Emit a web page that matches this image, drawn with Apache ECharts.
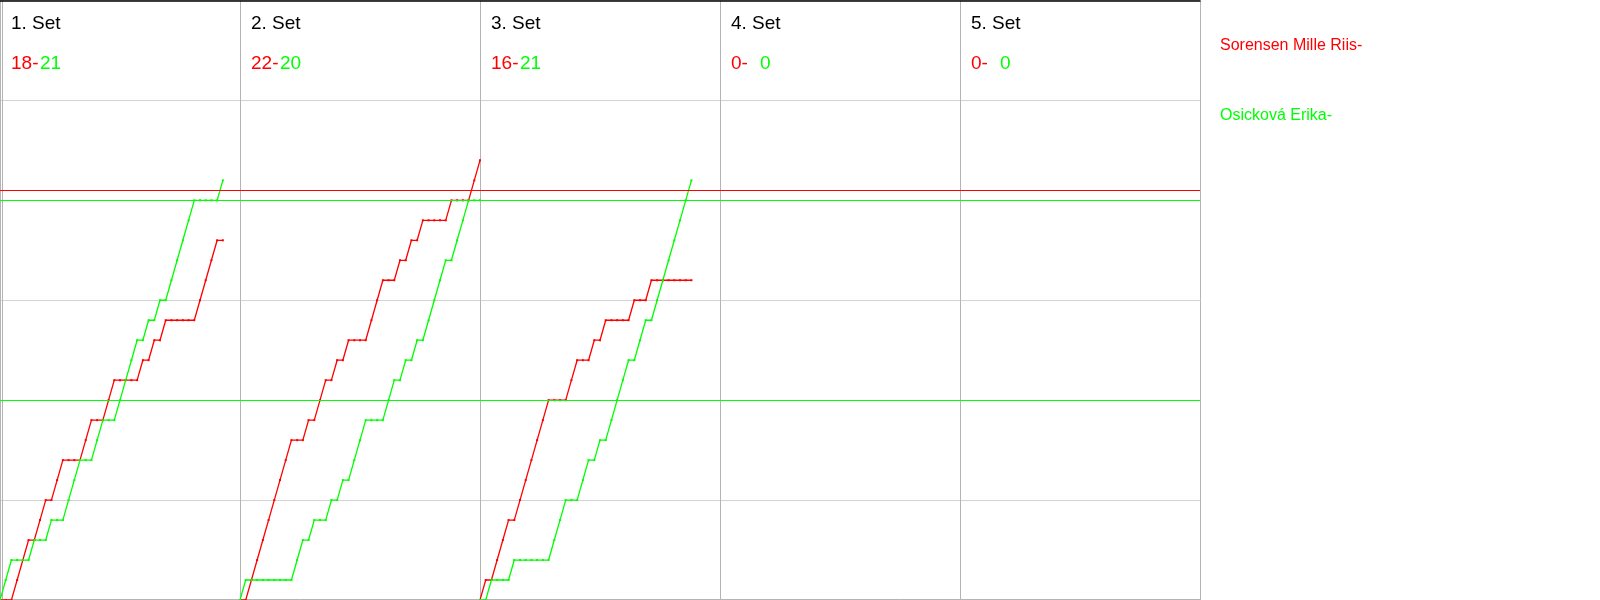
<!DOCTYPE html>
<html><head><meta charset="utf-8">
<script src="https://cdn.jsdelivr.net/npm/echarts@6/dist/echarts.min.js"></script>
<style>html,body{margin:0;padding:0;background:#fff}#chart{width:1600px;height:600px}</style>
</head><body><div id="chart"></div>
<script>
// ---- data ----
const playerRed = 'Sorensen Mille Riis';
const playerGreen = 'Osicková Erika';
const setNames = ['1. Set', '2. Set', '3. Set', '4. Set', '5. Set'];
const rallySlotsPerSet = 42;
// cumulative score after each rally (index = rally number, starting at 0)
const set1Red   = [0,0,0,1,2,3,3,4,5,5,6,7,7,7,7,8,9,9,9,10,11,11,11,11,11,12,12,13,13,14,14,14,14,14,14,15,16,17,18,18];
const set1Green = [0,1,2,2,2,2,3,3,3,4,4,4,5,6,7,7,7,8,9,9,9,10,11,12,13,13,14,14,15,15,16,17,18,19,20,20,20,20,20,21];
const set2Red   = [0,0,1,2,3,4,5,6,7,8,8,8,9,9,10,11,11,12,12,13,13,13,13,14,15,16,16,16,17,17,18,18,19,19,19,19,19,20,20,20,20,21,22];
const set2Green = [0,1,1,1,1,1,1,1,1,1,2,3,3,4,4,4,5,5,6,6,7,8,9,9,9,9,10,11,11,12,12,13,13,14,15,16,17,17,18,19,20,20,20];
const set3Red   = [0,1,1,2,3,4,4,5,6,7,8,9,10,10,10,10,11,12,12,12,13,13,14,14,14,14,14,15,15,15,16,16,16,16,16,16,16,16];
const set3Green = [0,0,1,1,1,1,2,2,2,2,2,2,2,3,4,5,5,5,6,7,7,8,8,9,10,11,12,12,13,14,14,15,16,17,18,19,20,21];
const set4Red = [], set4Green = [];
const set5Red = [], set5Green = [];
const redRefLines = [20.5];
const greenRefLines = [10, 20];
const yMax = 30, yStep = 5;

const RED = '#ff0000', GREEN = '#00ff00';
const FONT = 'Liberation Sans, Arial, sans-serif';
const redSets = [set1Red, set2Red, set3Red, set4Red, set5Red];
const greenSets = [set1Green, set2Green, set3Green, set4Green, set5Green];
const lastOf = a => a.length ? a[a.length - 1] : 0;

function toPoints(arr, s) { return arr.map((v, k) => [s * rallySlotsPerSet + k, v]); }

const series = [];
function addPlayer(sets, name, color, refs) {
  sets.forEach((arr, s) => {
    if (!arr.length) return;
    const ser = {
      type: 'line', name: name, data: toPoints(arr, s),
      xAxisIndex: 0, yAxisIndex: 0,
      symbol: 'rect', symbolSize: 2, showSymbol: true, showAllSymbol: true,
      lineStyle: { color: color, width: 1.3 }, itemStyle: { color: color },
      emphasis: { disabled: true },
      animation: false, silent: true
    };
    if (s === 0) {
      ser.markLine = {
        silent: true, symbol: ['none', 'none'], label: { show: false },
        emphasis: { disabled: true },
        lineStyle: { color: color, width: 1, type: 'solid', opacity: 1 },
        data: refs.map(v => ({ yAxis: v }))
      };
    }
    series.push(ser);
  });
}
addPlayer(redSets, playerRed, RED, redRefLines);
addPlayer(greenSets, playerGreen, GREEN, greenRefLines);

const chart = echarts.init(document.getElementById('chart'), null, { renderer: 'canvas' });
chart.setOption({
  animation: false,
  backgroundColor: '#fff',
  textStyle: { fontFamily: FONT },
  grid: { left: 0, top: 0.5, width: 1200, height: 600, containLabel: false },
  legend: {
    orient: 'vertical', left: 1210, top: 33, itemGap: 54,
    itemWidth: 0, itemHeight: 0, icon: 'rect',
    formatter: '{name}-',
    textStyle: { fontSize: 16, fontFamily: FONT, lineHeight: 16 },
    data: [
      { name: playerRed, textStyle: { color: RED } },
      { name: playerGreen, textStyle: { color: GREEN } }
    ],
    selectedMode: false
  },
  xAxis: [
    {
      type: 'value', min: 0, max: rallySlotsPerSet * setNames.length, interval: rallySlotsPerSet,
      position: 'bottom', offset: -1,
      axisLine: { show: true, onZero: false, lineStyle: { color: '#b4b4b4', width: 1 } },
      axisTick: { show: false }, axisLabel: { show: false },
      splitLine: { show: true, lineStyle: { color: '#b4b4b4', width: 1 } }
    },
    {
      type: 'value', min: 0, max: rallySlotsPerSet * setNames.length, interval: rallySlotsPerSet,
      position: 'top',
      axisLine: { show: true, onZero: false, lineStyle: { color: '#000', width: 1.5 } },
      axisTick: { show: false }, splitLine: { show: false },
      axisLabel: {
        show: true, inside: true, align: 'left', verticalAlign: 'top', margin: 3.5,
        padding: [0, 0, 0, 11],
        formatter: function (v) {
          const s = Math.round(v / rallySlotsPerSet);
          if (s >= setNames.length) return '';
          const r = lastOf(redSets[s]), g = lastOf(greenSets[s]);
          return '{t|' + setNames[s] + '}\n{r|' + r + '-}{g|' + g + '}';
        },
        rich: {
          t: { fontSize: 19, color: '#000', lineHeight: 40, fontFamily: FONT },
          r: { fontSize: 19, color: RED, lineHeight: 39, width: 29, fontFamily: FONT },
          g: { fontSize: 19, color: GREEN, lineHeight: 39, fontFamily: FONT }
        }
      }
    }
  ],
  yAxis: {
    type: 'value', min: 0, max: yMax, interval: yStep, offset: -2,
    axisLine: { show: true, onZero: false, lineStyle: { color: '#b4b4b4', width: 1 } },
    axisTick: { show: false }, axisLabel: { show: false },
    splitLine: { show: true, lineStyle: { color: '#d3d3d3', width: 1 } }
  },
  series: series
});
</script>
</body></html>
